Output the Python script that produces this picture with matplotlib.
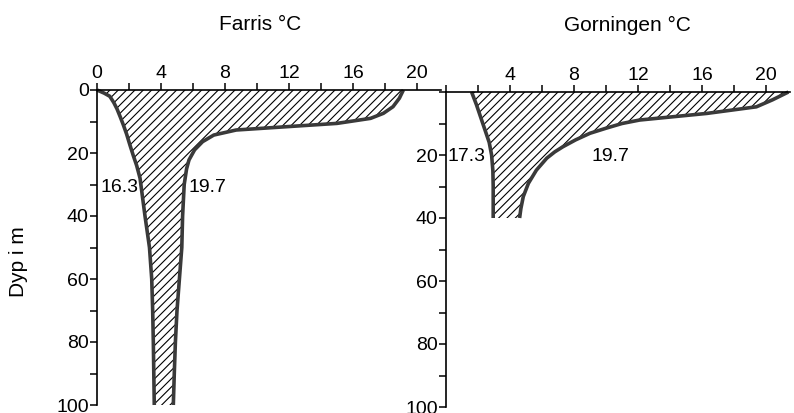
import numpy as np
import matplotlib
matplotlib.use("Agg")
import matplotlib.pyplot as plt
from matplotlib.ticker import MultipleLocator

plt.rcParams["font.family"] = ["Liberation Sans", "DejaVu Sans"]
plt.rcParams["hatch.linewidth"] = 0.8

# Farris: temperature profiles (depth m, temp C)
farris_a_depth = [0, 1, 2, 4, 6, 8.5, 11, 14, 17.5, 21, 24, 28, 35, 40, 50, 60, 70, 80, 90, 100]
farris_a_temp = [0, 0.45, 0.8, 1.05, 1.25, 1.45, 1.64, 1.85, 2.06, 2.28, 2.48, 2.69, 2.87,
                 3.0, 3.28, 3.42, 3.48, 3.52, 3.55, 3.58]
farris_b_depth = [0, 0.5, 2.6, 5.3, 7.4, 9.0, 10.6, 11.3, 12.0, 12.7, 14.3, 16.4, 19.0, 22.2,
                  25, 30, 40, 50, 60, 70, 80, 90, 100]
farris_b_temp = [19.15, 19.1, 18.9, 18.5, 17.9, 17.1, 15.0, 12.9, 10.8, 8.7, 7.3, 6.6, 6.1, 5.75,
                 5.6, 5.45, 5.35, 5.3, 5.15, 5.0, 4.9, 4.83, 4.77]

# Gorningen
gorn_a_depth = [0, 4, 7, 10, 13, 16, 20, 25, 30, 35, 40]
gorn_a_temp = [1.6, 1.9, 2.1, 2.3, 2.5, 2.7, 2.85, 2.93, 2.95, 2.95, 2.95]
gorn_b_depth = [0, 1, 2.5, 4.7, 6.8, 8.9, 10, 11.5, 13.1, 15.2, 17.4, 19, 21, 24.8, 29, 33.2, 37, 40]
gorn_b_temp = [21.4, 21.0, 20.4, 19.4, 16.3, 12.1, 11.0, 10.0, 9.0, 8.1, 7.3, 6.8, 6.3, 5.65,
               5.15, 4.83, 4.68, 4.6]

x_ticks_left = [0, 4, 8, 12, 16, 20]
x_ticks_right = [4, 8, 12, 16, 20]
y_ticks_left = [0, 20, 40, 60, 80, 100]
y_ticks_right = [20, 40, 60, 80, 100]

fig = plt.figure(figsize=(7.94, 4.13), dpi=100)
ax1 = fig.add_axes([97 / 794, 1 - 405 / 413, 344 / 794, 315 / 413])
ax2 = fig.add_axes([446 / 794, 1 - 407 / 413, 344 / 794, 315 / 413])


def style(ax, xt, yt):
    ax.set_xlim(0, 21.5)
    ax.set_ylim(100, 0)
    ax.xaxis.tick_top()
    ax.spines["bottom"].set_visible(False)
    ax.spines["right"].set_visible(False)
    for s in ("top", "left"):
        ax.spines[s].set_linewidth(1.2)
    ax.set_xticks(xt)
    ax.set_yticks(yt)
    ax.xaxis.set_minor_locator(MultipleLocator(2))
    ax.yaxis.set_minor_locator(MultipleLocator(10))
    ax.tick_params(which="both", direction="out", length=5, width=1.1,
                   labelsize=14, pad=1)
    ax.tick_params(axis="x", which="both", top=True, bottom=False)


def profile(ax, da, ta, db, tb):
    xs = np.concatenate([ta, tb[::-1]])
    ys = np.concatenate([da, db[::-1]])
    ax.fill(xs, ys, facecolor="white", edgecolor="black", hatch="////",
            linewidth=0)
    ax.plot(ta, da, color="#3a3a3a", lw=2.6, solid_capstyle="butt",
            solid_joinstyle="round", clip_on=False)
    ax.plot(tb, db, color="#3a3a3a", lw=2.6, solid_capstyle="butt",
            solid_joinstyle="round", clip_on=False)


style(ax1, x_ticks_left, y_ticks_left)
style(ax2, x_ticks_right, y_ticks_right)

profile(ax1, farris_a_depth, farris_a_temp, farris_b_depth, farris_b_temp)
profile(ax2, gorn_a_depth, gorn_a_temp, gorn_b_depth, gorn_b_temp)

ax1.text(0.2, 31, "16.3", fontsize=14, ha="left", va="center")
ax1.text(5.7, 31, "19.7", fontsize=14, ha="left", va="center")
ax2.text(0.1, 20.5, "17.3", fontsize=14, ha="left", va="center")
ax2.text(9.1, 20.5, "19.7", fontsize=14, ha="left", va="center")

fig.text(260 / 794, 1 - 25 / 413, "Farris °C", fontsize=15, ha="center", va="center")
fig.text(627 / 794, 1 - 25 / 413, "Gorningen °C", fontsize=15, ha="center", va="center")
fig.text(18 / 794, 1 - 262 / 413, "Dyp i m", fontsize=15, rotation=90,
         ha="center", va="center")

fig.savefig("out.png", dpi=100)
plt.close()
